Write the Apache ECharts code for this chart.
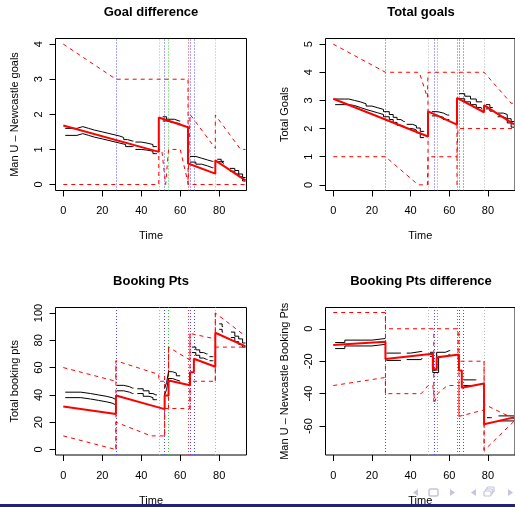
<!DOCTYPE html>
<html><head><meta charset="utf-8">
<script src="https://cdn.jsdelivr.net/npm/echarts@6/dist/echarts.min.js"></script>
<style>html,body{margin:0;padding:0;background:#fff}#c{width:515px;height:507px}</style>
</head><body><div id="c"></div>
<script>
// ---- event markers (time, kind) ----
const eventTimes = [27, 49, 52, 54, 64, 65, 67, 78];
const eventKinds = ['b', 'g', 'b', 's', 'r', 'b', 'b', 'g'];
const xTicks = [0, 20, 40, 60, 80];

// ---- Goal difference ----
const gdTicks = [0, 1, 2, 3, 4];
const gdMean = [[0,1.68],[49,0.93],[49,1.91],[64,1.63],[64,0.60],[78,0.31],[78,0.69],[93.5,0.12]];
const gdUpper = [[0,4],[27,3],[64,3],[64,0],[65,0],[65,2],[78,1.03],[78,1.98],[91,1],[93.5,1]];
const gdLower = [[0,0],[49,0],[49,1],[50.5,1],[52.5,0],[53.5,0],[54,1],[60,1],[64.2,0],[93.5,0]];
const gdConn = [];
const gdHi = [[1,1.60],[7,1.65],[10,1.60],[13,1.55],[16,1.50],[20,1.46],[23,1.42],[26,1.38],[29,1.34],[31,1.28],[33,1.24],[35.5,1.24],[36,null],[37,1.21],[40,1.18],[43,1.14],[46,1.08],[47.5,1.08],[48,null],[51,1.93],[53,1.86],[57,1.81],[59.5,1.81],[60,null],[65,0.80],[68,0.75],[71,0.70],[74,0.66],[76.5,0.66],[77,null],[79,0.72],[81,0.66],[82,0.66],[82.5,null],[85.5,0.46],[88,0.40],[90,0.30],[92,0.20],[93.5,0.20]];
const gdLo = [[1,1.40],[7,1.45],[10,1.40],[13,1.35],[16,1.30],[20,1.26],[23,1.22],[26,1.18],[29,1.14],[32,1.08],[35.5,1.08],[36,null],[37,1.00],[40,0.98],[43,0.95],[46,0.88],[47.5,0.88],[48,null],[51,1.81],[53,1.77],[56,1.74],[59.5,1.74],[60,null],[65,0.64],[68,0.58],[71,0.53],[74,0.48],[76.5,0.48],[77,null],[79,0.65],[81,0.60],[82,0.60],[82.5,null],[85.5,0.38],[88,0.30],[90,0.22],[92,0.10],[93.5,0.10]];

// ---- Total goals ----
const tgTicks = [0, 1, 2, 3, 4, 5];
const tgMean = [[0,3.06],[49,1.72],[49,2.61],[64,2.14],[64,3.09],[78,2.58],[78,2.83],[93.5,2.15]];
const tgUpper = [[0,5],[27,4],[44.5,4],[48.7,3.1],[49,4],[78,4],[92,2.9],[93.5,2.9]];
const tgLower = [[0,1],[27,1],[44,0],[48.7,0],[49,1],[64,1],[64.5,2],[93.5,2]];
const tgConn = [[49,0],[49,3.2],[49,null],[64,0],[64,3.1]];
const tgHi = [[1,3.05],[6,3.05],[8,3.00],[11,2.95],[14,2.88],[17,2.80],[20,2.74],[23,2.68],[26,2.60],[29,2.50],[31,2.40],[33,2.32],[35,2.25],[36.5,2.25],[37,null],[38,2.15],[41,2.10],[43,2.02],[45,1.90],[46.5,1.90],[47,null],[51,2.60],[54,2.55],[57,2.48],[59,2.48],[60,null],[65,3.24],[68,3.15],[71,3.05],[74,2.95],[76.5,2.95],[77,null],[79,2.85],[81,2.75],[82,2.75],[82.5,null],[85,2.55],[88,2.50],[90,2.35],[92,2.25],[93.5,2.25]];
const tgLo = [[1,2.85],[6,2.85],[8,2.82],[11,2.75],[14,2.68],[17,2.62],[20,2.56],[23,2.50],[26,2.42],[29,2.32],[31,2.22],[33,2.12],[35,2.08],[36.5,2.08],[37,null],[38,2.00],[41,1.95],[43,1.85],[45,1.68],[46.5,1.68],[47,null],[51,2.45],[54,2.40],[57,2.32],[59,2.32],[60,null],[65,3.06],[68,2.95],[71,2.85],[74,2.75],[76.5,2.68],[77,null],[79,2.70],[81,2.62],[82,2.62],[82.5,null],[85,2.42],[88,2.35],[90,2.20],[92,2.05],[93.5,2.05]];

// ---- Booking Pts ----
const bpTicks = [0, 20, 40, 60, 80, 100];
const bpMean = [[0,31.5],[27,26],[27,39.6],[52,29.6],[52,39.5],[54,39.5],[54,50.5],[65,47],[65,56.5],[67,56.5],[67,66.5],[78,60.6],[78,85.5],[93.5,75.5]];
const bpUpper = [[0,60],[27,50],[27,65],[49,55],[49,50],[54,50],[54,75],[65,65.5],[65,85],[78,81],[78,100],[93.5,83]];
const bpLower = [[0,10],[27,0],[27,20],[45,10],[52,10],[52,30],[65,30],[65,50],[78,50],[78,75],[93.5,75]];
const bpConn = [[27,0],[27,65],[27,null],[52,10],[52,55],[52,null],[54,30],[54,75],[54,null],[65,30],[65,85],[65,null],[78,50],[78,100]];
const bpHi = [[1,42],[6,42],[9,41],[14,40],[18,39],[22,38],[25,37],[26.5,37],[27,null],[27.5,47],[31,46],[34,45],[35.5,45],[36,null],[38,44.5],[41,43],[44,41],[46,40],[47.5,40],[48,null],[52,45],[53,49],[54,57],[56,56],[58,54],[59,54],[60,null],[66,75],[68,73],[70,71],[72,70],[73.5,70],[74,null],[75,68],[76.5,68],[77,null],[80,92],[81.5,90],[82,null],[86,86],[88,83],[90,81],[92,78],[93.5,78]];
const bpLo = [[1,38],[6,38],[9,37],[14,36],[18,35],[22,34],[25,33],[26.5,33],[27,null],[27.5,43],[31,42],[34,41],[35.5,41],[36,null],[38,41],[41,39],[44,38],[46,36.5],[47.5,36.5],[48,null],[52,40],[53,44],[54,52],[56,51],[58,50],[59,50],[60,null],[66,71],[68,69],[70,67],[72,66],[73.5,66],[74,null],[75,65],[76.5,65],[77,null],[80,88],[81.5,86],[82,null],[86,82],[88,79],[90,77],[92,75],[93.5,75]];

// ---- Booking Pts difference ----
const bdTicks = [-60, -40, -20, 0];
const bdMean = [[0,-10],[27,-8],[27,-18.7],[51.5,-15.4],[51.5,-25],[53.5,-25],[53.5,-17.7],[65,-15.8],[65,-25.7],[66.5,-25.7],[66.5,-36.3],[78,-33.8],[78,-58.8],[93.5,-54.6]];
const bdUpper = [[0,10],[27,10],[27,0],[64.5,0],[64.5,-20],[78,-20],[78,-46.5],[93.5,-55.5]];
const bdLower = [[0,-35],[27,-30],[27,-40],[45.5,-40],[49,-35],[51.5,-35],[52.5,-45],[54,-40],[59,-35],[65,-35],[65,-54],[78,-50],[78,-75],[93.5,-57]];
const bdConn = [[27,-40],[27,10],[27,null],[52,-45],[52,0],[52,null],[65,-54],[65,0],[65,null],[78,-75],[78,-20]];
const bdHi = [[1,-8.5],[6,-7],[20,-6],[27,-6],[27.3,null],[27.5,-15],[34.5,-15],[35,null],[38,-15],[40,-14],[45.5,-14],[46,null],[50,-14.5],[51.5,-25.5],[53.5,-14.5],[58,-13.5],[60,-13.5],[60.5,null],[67.5,-31.5],[73.5,-31.5],[74,null],[79.5,-54.8],[81.5,-54.8],[82,null],[85.5,-53.7],[93.5,-53.7]];
const bdLo = [[1,-12.2],[6,-10.6],[20,-9.6],[27,-9.6],[27.3,null],[27.5,-19.5],[34.5,-19.5],[35,null],[38,-19],[45.5,-18],[46,null],[50,-17],[51.5,-27],[54.5,-17],[58,-16],[60,-16],[60.5,null],[67.5,-35],[73.5,-35],[74,null],[85.5,-56.8],[93.5,-56.8]];

// ---- layout / styling ----
const FONT = '"Liberation Sans", Arial, Helvetica, sans-serif';
const kindColor = { b: '#4b4bff', g: '#b4b4b4', s: '#2fd02f', r: '#ff3b3b' };
const panels = [
  { title: 'Goal difference', yName: 'Man U \u2013 Newcastle goals', yMin: -0.17, yMax: 4.16, ticks: gdTicks,
    mean: gdMean, upper: gdUpper, lower: gdLower, conn: gdConn, hi: gdHi, lo: gdLo,
    box: { left: 55.5, top: 38.5, width: 191, height: 152 }, titleY: 6 },
  { title: 'Total goals', yName: 'Total Goals', yMin: -0.2, yMax: 5.2, ticks: tgTicks,
    mean: tgMean, upper: tgUpper, lower: tgLower, conn: tgConn, hi: tgHi, lo: tgLo,
    box: { left: 325.5, top: 38.5, width: 191, height: 152 }, titleY: 6 },
  { title: 'Booking Pts', yName: 'Total booking pts', yMin: -4, yMax: 104, ticks: bpTicks,
    mean: bpMean, upper: bpUpper, lower: bpLower, conn: bpConn, hi: bpHi, lo: bpLo,
    box: { left: 55.5, top: 307.5, width: 191, height: 151 }, titleY: 275 },
  { title: 'Booking Pts difference', yName: 'Man U \u2013 Newcastle Booking Pts', yMin: -77.8, yMax: 13.1, ticks: bdTicks,
    mean: bdMean, upper: bdUpper, lower: bdLower, conn: bdConn, hi: bdHi, lo: bdLo,
    box: { left: 325.5, top: 307.5, width: 191, height: 151 }, titleY: 275 }
];

const grid = [], xAxis = [], yAxis = [], title = [], series = [];
panels.forEach((p, i) => {
  grid.push(Object.assign({ show: true, borderColor: '#000', borderWidth: 1, backgroundColor: 'transparent', containLabel: false }, p.box));
  title.push({ text: p.title, left: p.box.left + p.box.width / 2, top: p.titleY, textAlign: 'center', padding: 0,
    textStyle: { fontFamily: FONT, fontSize: 13, fontWeight: 'bold', color: '#000' } });
  xAxis.push({ type: 'value', gridIndex: i, min: -4, max: 94, name: 'Time', nameLocation: 'middle', nameGap: 40,
    nameTextStyle: { fontFamily: FONT, fontSize: 11, color: '#000' },
    axisLine: { show: false, onZero: false }, splitLine: { show: false },
    axisTick: { show: true, length: 6, customValues: xTicks, lineStyle: { color: '#000', width: 1 } },
    axisLabel: { customValues: xTicks, margin: 15, fontFamily: FONT, fontSize: 11, color: '#000' } });
  yAxis.push({ type: 'value', gridIndex: i, min: p.yMin, max: p.yMax, name: p.yName, nameLocation: 'middle', nameGap: 35,
    nameTextStyle: { fontFamily: FONT, fontSize: 11, color: '#000' },
    axisLine: { show: false, onZero: false }, splitLine: { show: false },
    axisTick: { show: true, length: 6, customValues: p.ticks, lineStyle: { color: '#000', width: 1 } },
    axisLabel: { customValues: p.ticks, rotate: 90, margin: 11, fontFamily: FONT, fontSize: 11, color: '#000' } });
  const base = { type: 'line', xAxisIndex: i, yAxisIndex: i, symbol: 'none', showSymbol: false, silent: true, animation: false, connectNulls: false };
  series.push(Object.assign({}, base, { name: 'events' + i, data: [],
    markLine: { silent: true, symbol: ['none', 'none'], z: 1, label: { show: false }, animation: false,
      data: eventTimes.map((t, k) => ({ xAxis: t, lineStyle: { color: kindColor[eventKinds[k]], width: 1, type: [1, 2] } })) } }));
  const dashed = { color: '#ff0000', width: 1, type: [4, 4] };
  series.push(Object.assign({}, base, { name: 'upper' + i, data: p.upper, lineStyle: dashed }));
  series.push(Object.assign({}, base, { name: 'lower' + i, data: p.lower, lineStyle: dashed }));
  series.push(Object.assign({}, base, { name: 'conn' + i, data: p.conn, lineStyle: dashed }));
  series.push(Object.assign({}, base, { name: 'hi' + i, data: p.hi, step: 'end', lineStyle: { color: '#000', width: 1 } }));
  series.push(Object.assign({}, base, { name: 'lo' + i, data: p.lo, step: 'end', lineStyle: { color: '#000', width: 1 } }));
  series.push(Object.assign({}, base, { name: 'mean' + i, data: p.mean, lineStyle: { color: '#ff0000', width: 2 } }));
});

const navCol = '#c4c4de';
const graphic = [
  { type: 'rect', shape: { x: 0, y: 504, width: 515, height: 3 }, style: { fill: '#22227a' }, z: 100 },
  { type: 'polygon', shape: { points: [[418,489],[413,492.5],[418,496]] }, style: { fill: navCol }, z: 100 },
  { type: 'rect', shape: { x: 429, y: 489, width: 9, height: 7, r: 1.5 }, style: { fill: 'none', stroke: navCol, lineWidth: 1.5 }, z: 100 },
  { type: 'polygon', shape: { points: [[450,489],[455,492.5],[450,496]] }, style: { fill: navCol }, z: 100 },
  { type: 'polygon', shape: { points: [[476,489],[471,492.5],[476,496]] }, style: { fill: navCol }, z: 100 },
  { type: 'rect', shape: { x: 487, y: 487, width: 7, height: 5, r: 1 }, style: { fill: '#fff', stroke: navCol, lineWidth: 1.2 }, z: 100 },
  { type: 'rect', shape: { x: 485.5, y: 489, width: 7, height: 5, r: 1 }, style: { fill: '#fff', stroke: navCol, lineWidth: 1.2 }, z: 100 },
  { type: 'rect', shape: { x: 484, y: 491, width: 7, height: 5, r: 1 }, style: { fill: '#fff', stroke: navCol, lineWidth: 1.2 }, z: 100 },
  { type: 'polygon', shape: { points: [[508,489],[513,492.5],[508,496]] }, style: { fill: navCol }, z: 100 }
];

const chart = echarts.init(document.getElementById('c'), null, { renderer: 'canvas', width: 515, height: 507 });
chart.setOption({ animation: false, backgroundColor: '#fff', title, grid, xAxis, yAxis, series, graphic });
</script>
</body></html>
